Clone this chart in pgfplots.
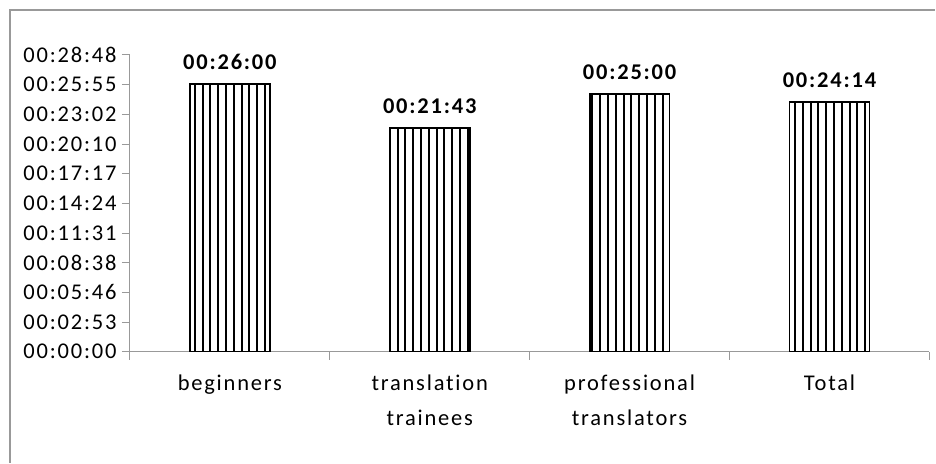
\documentclass[border=0pt]{standalone}
\usepackage{fontspec}
\setmainfont{Carlito}[LetterSpace=8, Ligatures=NoCommon]
\usepackage{pgfplots}
\pgfplotsset{compat=1.18}
\usetikzlibrary{patterns.meta}
\begin{document}
\begin{tikzpicture}[x=1pt,y=1pt]
\path (0,0) rectangle (936,463);
\draw[gray!80, line width=1.2pt] (10,0) -- (10,453) -- (936,453);
\begin{axis}[
  at={(130pt,111pt)}, anchor=south west,
  scale only axis, width=800pt, height=297pt,
  font=\fontsize{22.5}{35}\selectfont,
  ybar, bar width=80pt,
  xmin=-0.5, xmax=3.5, ymin=0, ymax=1728,
  axis x line*=bottom, axis y line*=left,
  axis line style={gray!80, line width=1pt},
  xtick={0,1,2,3},
  xticklabels={beginners, translation\\trainees, professional\\translators, Total},
  xticklabel style={align=center, text=black, yshift=-12pt},
  major x tick style={draw=none},
  minor xtick={-0.5,0.5,1.5,2.5,3.5},
  minor tick length=8pt,
  minor x tick style={gray!80, line width=1pt},
  ytick={0,172.8,345.6,518.4,691.2,864,1036.8,1209.6,1382.4,1555.2,1728},
  yticklabels={00:00:00,00:02:53,00:05:46,00:08:38,00:11:31,00:14:24,00:17:17,00:20:10,00:23:02,00:25:55,00:28:48},
  ytick style={gray!80, line width=1pt},
  major tick length=8pt,
  tick align=outside,
  yticklabel style={text=black, xshift=-2pt},
  point meta=explicit symbolic,
  nodes near coords,
  every node near coord/.append style={font=\fontsize{22.5}{26}\selectfont\bfseries, anchor=south, yshift=10pt},
]
\addplot[draw=black, line width=1.8pt, fill=white,
  postaction={pattern={Lines[angle=90, distance=7.8pt, line width=2pt]}, pattern color=black}]
  coordinates {(0,1560)[00:26:00] (1,1303)[00:21:43] (2,1500)[00:25:00] (3,1454)[00:24:14]};
\end{axis}
\end{tikzpicture}
\end{document}
